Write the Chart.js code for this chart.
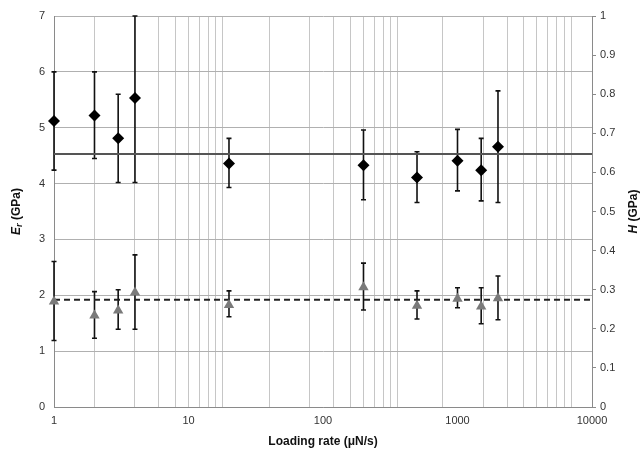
<!DOCTYPE html>
<html>
<head>
<meta charset="utf-8">
<script src="https://cdn.jsdelivr.net/npm/chart.js@4.4.1/dist/chart.umd.min.js"></script>
<style>
  body { margin: 0; background: #fff; }
  #wrap { width: 642px; height: 451px; position: relative; }
</style>
</head>
<body>
<div id="wrap"><canvas id="myChart"></canvas></div>
<script>
// loading rates (uN/s)
var rates = [1, 2, 3, 4, 20, 200, 500, 1000, 1500, 2000];

// reduced modulus Er (GPa), left axis
var erMean = [5.12, 5.22, 4.81, 5.53, 4.36, 4.33, 4.11, 4.41, 4.24, 4.66];
var erHigh = [6.00, 6.00, 5.60, 7.00, 4.81, 4.96, 4.57, 4.97, 4.81, 5.66];
var erLow  = [4.24, 4.45, 4.02, 4.02, 3.93, 3.71, 3.66, 3.87, 3.69, 3.66];
var erAverage = 4.53;

// hardness H (GPa), right axis
var hMean = [0.270, 0.234, 0.247, 0.293, 0.261, 0.306, 0.259, 0.277, 0.257, 0.278];
var hHigh = [0.372, 0.295, 0.300, 0.389, 0.297, 0.368, 0.297, 0.305, 0.305, 0.335];
var hLow  = [0.170, 0.176, 0.199, 0.199, 0.231, 0.248, 0.225, 0.254, 0.213, 0.223];
var hAverage = 0.274;

// x axis: labelled ticks and the vertical grid lines as they sit in the original
var majorTicks = [1, 10, 100, 1000, 10000];
var minorGrid = [2, 4, 6, 8, 10, 12, 14, 16, 18,
                 40, 80, 120, 160, 200, 240, 280, 320, 360,
                 780, 1560, 2340, 3120, 3900, 4680, 5460, 6240, 7020];

var FONT = '"Liberation Sans", Arial, sans-serif';

function points(ys) {
    return rates.map(function(r, i){ return {x: r, y: ys[i]}; });
}

var errorBars = {
    id: 'errorBars',
    beforeDatasetsDraw: function(chart) {
        var ctx = chart.ctx, xs = chart.scales.x, a = chart.chartArea;
        var sets = [[chart.scales.y, erLow, erHigh], [chart.scales.y1, hLow, hHigh]];
        ctx.save();
        ctx.beginPath();
        ctx.rect(0, a.top - 1, chart.width, a.bottom - a.top + 2);
        ctx.clip();
        ctx.strokeStyle = '#111';
        ctx.lineWidth = 1.6;
        sets.forEach(function(s){
            rates.forEach(function(r, i){
                var px = xs.getPixelForValue(r);
                var top = s[0].getPixelForValue(s[2][i]);
                var bot = s[0].getPixelForValue(s[1][i]);
                ctx.beginPath();
                ctx.moveTo(px, top); ctx.lineTo(px, bot);
                ctx.moveTo(px - 2.5, top); ctx.lineTo(px + 2.5, top);
                ctx.moveTo(px - 2.5, bot); ctx.lineTo(px + 2.5, bot);
                ctx.stroke();
            });
        });
        ctx.restore();
    }
};

function drawTitle(ctx, x, y, parts) {
    var total = 0;
    parts.forEach(function(p){ ctx.font = p.font; total += ctx.measureText(p.text).width; });
    ctx.save();
    ctx.translate(x, y);
    ctx.rotate(-Math.PI / 2);
    ctx.fillStyle = '#111';
    ctx.textBaseline = 'middle';
    var pos = -total / 2;
    parts.forEach(function(p){
        ctx.font = p.font;
        ctx.fillText(p.text, pos, p.dy || 0);
        pos += ctx.measureText(p.text).width;
    });
    ctx.restore();
}

var axisTitles = {
    id: 'axisTitles',
    afterDraw: function(chart) {
        var ctx = chart.ctx, a = chart.chartArea;
        var mid = (a.top + a.bottom) / 2;
        drawTitle(ctx, 17, mid, [
            {text: 'E', font: 'italic bold 12px ' + FONT},
            {text: 'r', font: 'italic bold 9px ' + FONT, dy: 3},
            {text: ' (GPa)', font: 'bold 12px ' + FONT}
        ]);
        drawTitle(ctx, 634, mid, [
            {text: 'H', font: 'italic bold 12px ' + FONT},
            {text: ' (GPa)', font: 'bold 12px ' + FONT}
        ]);
    }
};

var ctx = document.getElementById('myChart');
var myChart = new Chart(ctx, {
    type: 'scatter',
    data: {
        datasets: [
            {
                label: 'Er',
                data: points(erMean),
                yAxisID: 'y',
                pointStyle: 'rectRot',
                pointRadius: 6,
                backgroundColor: '#000',
                borderColor: '#000',
                borderWidth: 0,
                clip: false,
                order: 0
            },
            {
                label: 'H',
                data: points(hMean),
                yAxisID: 'y1',
                pointStyle: 'triangle',
                pointRadius: 6,
                backgroundColor: '#7a7a7a',
                borderColor: '#7a7a7a',
                borderWidth: 0,
                clip: false,
                order: 0
            },
            {
                label: 'Er average',
                data: [{x: 1, y: erAverage}, {x: 10000, y: erAverage}],
                yAxisID: 'y',
                showLine: true,
                pointRadius: 0,
                borderColor: '#555',
                borderWidth: 2,
                order: 1
            },
            {
                label: 'H average',
                data: [{x: 1, y: hAverage}, {x: 10000, y: hAverage}],
                yAxisID: 'y1',
                showLine: true,
                pointRadius: 0,
                borderColor: '#222',
                borderWidth: 2,
                borderDash: [6, 4],
                order: 1
            }
        ]
    },
    options: {
        responsive: true,
        maintainAspectRatio: false,
        animation: false,
        layout: { padding: { left: 0, right: 0, top: 16, bottom: 0 } },
        plugins: {
            legend: { display: false },
            tooltip: { enabled: false }
        },
        scales: {
            x: {
                type: 'logarithmic',
                min: 1,
                max: 10000,
                afterBuildTicks: function(scale) {
                    var vals = majorTicks.concat(minorGrid.filter(function(v){ return majorTicks.indexOf(v) < 0; }));
                    vals.sort(function(p, q){ return p - q; });
                    scale.ticks = vals.map(function(v){ return {value: v, major: majorTicks.indexOf(v) >= 0}; });
                },
                afterFit: function(scale) { scale.height = 44; },
                grid: {
                    drawTicks: false,
                    color: function(c) {
                        return minorGrid.indexOf(c.tick.value) >= 0 ? '#c6c6c6' : 'rgba(0,0,0,0)';
                    },
                    lineWidth: 1
                },
                border: { color: '#8a8a8a', width: 1 },
                ticks: {
                    autoSkip: false,
                    maxRotation: 0,
                    padding: 7,
                    color: '#333',
                    font: { family: FONT, size: 11 },
                    callback: function(v) {
                        return majorTicks.indexOf(v) >= 0 ? String(v) : '';
                    }
                },
                title: {
                    display: true,
                    text: 'Loading rate (\u03bcN/s)',
                    color: '#111',
                    font: { family: FONT, size: 12, weight: 'bold' },
                    padding: { top: 4, bottom: 2 }
                }
            },
            y: {
                position: 'left',
                min: 0,
                max: 7,
                afterFit: function(scale) { scale.width = 54; },
                grid: { drawTicks: false, color: '#b0b0b0' },
                border: { color: '#8a8a8a' },
                ticks: {
                    stepSize: 1,
                    padding: 9,
                    color: '#333',
                    font: { family: FONT, size: 11 }
                }
            },
            y1: {
                position: 'right',
                min: 0,
                max: 1,
                afterFit: function(scale) { scale.width = 50; },
                grid: { drawOnChartArea: false, tickLength: 4, color: '#8a8a8a' },
                border: { color: '#8a8a8a' },
                ticks: {
                    stepSize: 0.1,
                    padding: 4,
                    color: '#333',
                    font: { family: FONT, size: 11 },
                    callback: function(v) { return String(+v.toFixed(1)); }
                }
            }
        }
    },
    plugins: [errorBars, axisTitles]
});
</script>
</body>
</html>
